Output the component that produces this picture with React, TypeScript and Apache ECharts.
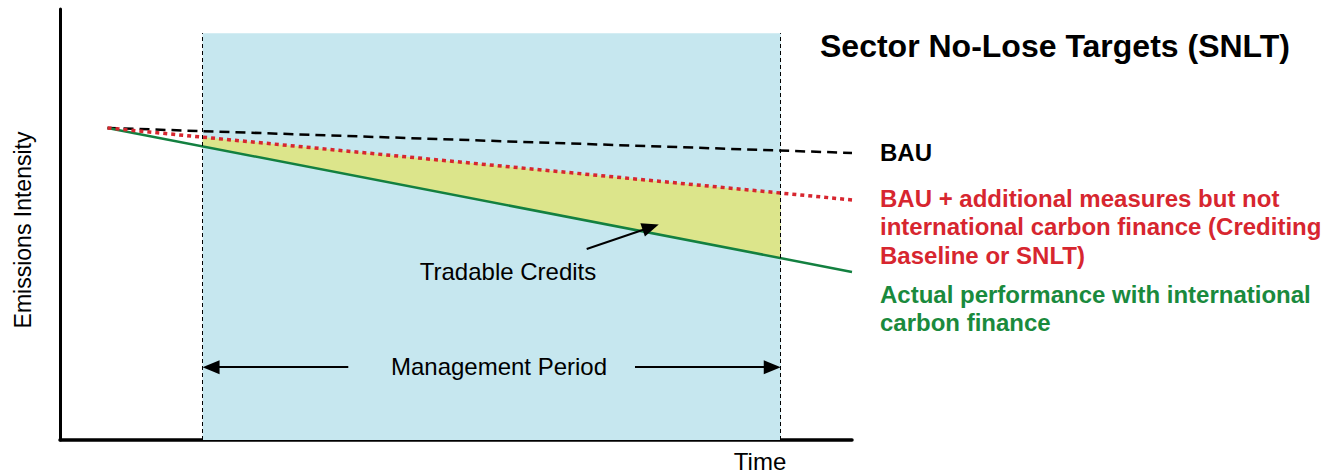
import React, { useEffect, useRef } from "react";
import * as echarts from "echarts";

// Schematic values (axis units 0..100 on both axes)
const timeX = [6, 100];
const bauY = [72.4, 66.6];
const baselineY = [72.4, 55.7];
const actualY = [72.4, 39.0];
const periodX = [18, 91];
const periodTop = 94.4;
const creditsX = [18, 91];
const creditsUpper = [70.3, 57.3];
const creditsLower = [68.1, 42.2];
const periodArrowY = 16.9;
const periodArrowInner = [36.4, 72.6];
const creditArrowFrom = [66.5, 44.3];
const creditArrowTo = [75.6, 50.0];

const FONT = '"Liberation Sans", Arial, Helvetica, sans-serif';

// grid geometry (pixels)
const GRID = { left: 60, right: 470, top: 9, bottom: 34 };
const W = 1322;
const H = 474;
const PX_X = (W - GRID.left - GRID.right) / 100;
const PX_Y = (H - GRID.top - GRID.bottom) / 100;
const HEAD_LEN = 17;

// move an arrow's end point back by half the head length so that the tip lands on `to`
function tipAdjust(from: number[], to: number[]) {
  const dx = (to[0] - from[0]) * PX_X;
  const dy = (to[1] - from[1]) * PX_Y;
  const len = Math.hypot(dx, dy);
  const k = HEAD_LEN / 2 / len;
  return [to[0] - (dx * k) / PX_X, to[1] - (dy * k) / PX_Y];
}

export default function App() {
  const ref = useRef<HTMLDivElement>(null);
  useEffect(() => {
    if (!ref.current) return;
    const chart = echarts.init(ref.current, undefined, { renderer: "svg" });
    const pts = (ys: number[]) => timeX.map((x, i) => [x, ys[i]]);
    const arrows = [
      [[periodArrowInner[0], periodArrowY], [periodX[0], periodArrowY]],
      [[periodArrowInner[1], periodArrowY], [periodX[1], periodArrowY]],
      [creditArrowFrom, creditArrowTo],
    ].map(([f, t]) => [{ coord: f }, { coord: tipAdjust(f, t) }]);
    const option: any = {
      animation: false,
      backgroundColor: "#ffffff",
      grid: { ...GRID, containLabel: false },
      xAxis: {
        type: "value",
        min: 0,
        max: 100,
        axisLine: { show: true, onZero: false, lineStyle: { color: "#000", width: 3.5 } },
        axisTick: { show: false },
        axisLabel: { show: false },
        splitLine: { show: false },
      },
      yAxis: {
        type: "value",
        min: 0,
        max: 100,
        axisLine: { show: true, onZero: false, lineStyle: { color: "#000", width: 3 } },
        axisTick: { show: false },
        axisLabel: { show: false },
        splitLine: { show: false },
      },
      series: [
        {
          type: "line",
          name: "period",
          data: [],
          z: 1,
          markArea: {
            silent: true,
            itemStyle: { color: "#c6e7ef" },
            data: [[{ coord: [periodX[0], 0] }, { coord: [periodX[1], periodTop] }]],
          },
        },
        {
          type: "custom",
          name: "credits",
          z: 2,
          data: [0],
          renderItem: (params: any, api: any) => {
            const p = [
              api.coord([creditsX[0], creditsUpper[0]]),
              api.coord([creditsX[1], creditsUpper[1]]),
              api.coord([creditsX[1], creditsLower[1]]),
              api.coord([creditsX[0], creditsLower[0]]),
            ];
            return { type: "polygon", shape: { points: p }, style: { fill: "#dce58b" } };
          },
        },
        {
          type: "line",
          name: "BAU",
          data: pts(bauY),
          symbol: "none",
          z: 3,
          lineStyle: { color: "#000", width: 2.5, type: [10, 6] },
        },
        {
          type: "line",
          name: "Baseline",
          data: pts(baselineY),
          symbol: "none",
          z: 4,
          lineStyle: { color: "#d7262f", width: 3.5, type: [4, 4], cap: "butt" },
        },
        {
          type: "line",
          name: "Actual",
          data: pts(actualY),
          symbol: "none",
          z: 3,
          lineStyle: { color: "#138040", width: 2.5 },
        },
        {
          type: "line",
          name: "markers",
          data: [],
          z: 6,
          markLine: {
            silent: true,
            animation: false,
            label: { show: false },
            symbol: ["none", "none"],
            lineStyle: { color: "#000", width: 1, type: [4, 3] },
            data: periodX.map((x) => [
              { coord: [x, 0] },
              { coord: [x, periodTop] },
            ]),
          },
        },
        {
          type: "line",
          name: "arrows",
          data: [],
          z: 7,
          markLine: {
            silent: true,
            animation: false,
            label: { show: false },
            symbol: ["none", "triangle"],
            symbolSize: [14, HEAD_LEN],
            lineStyle: { color: "#000", width: 2, type: "solid" },
            itemStyle: { color: "#000" },
            data: arrows,
          },
        },
      ],
      graphic: [
        {
          type: "text",
          z: 100,
          x: 23,
          y: 230,
          rotation: Math.PI / 2,
          style: { text: "Emissions Intensity", font: `23px ${FONT}`, fill: "#000", align: "center", verticalAlign: "middle" },
        },
        {
          type: "text",
          z: 100,
          x: 820,
          y: 46,
          style: { text: "Sector No-Lose Targets (SNLT)", font: `bold 32px ${FONT}`, fill: "#000", verticalAlign: "middle" },
        },
        {
          type: "text",
          z: 100,
          x: 880,
          y: 152,
          style: { text: "BAU", font: `bold 24px ${FONT}`, fill: "#000", verticalAlign: "middle" },
        },
        {
          type: "text",
          z: 100,
          x: 880,
          y: 184,
          style: {
            text: "BAU + additional measures but not\ninternational carbon finance (Crediting\nBaseline or SNLT)",
            font: `bold 24px ${FONT}`,
            lineHeight: 28.5,
            fill: "#d7262f",
            verticalAlign: "top",
          },
        },
        {
          type: "text",
          z: 100,
          x: 880,
          y: 280,
          style: {
            text: "Actual performance with international\ncarbon finance",
            font: `bold 24px ${FONT}`,
            lineHeight: 28,
            fill: "#1a8a3d",
            verticalAlign: "top",
          },
        },
        {
          type: "text",
          z: 100,
          x: 508,
          y: 271,
          style: { text: "Tradable Credits", font: `24px ${FONT}`, fill: "#000", align: "center", verticalAlign: "middle" },
        },
        {
          type: "text",
          z: 100,
          x: 499,
          y: 366,
          style: { text: "Management Period", font: `24px ${FONT}`, fill: "#000", align: "center", verticalAlign: "middle" },
        },
        {
          type: "text",
          z: 100,
          x: 760,
          y: 461,
          style: { text: "Time", font: `24px ${FONT}`, fill: "#000", align: "center", verticalAlign: "middle" },
        },
      ],
    };
    chart.setOption(option);
    return () => chart.dispose();
  }, []);
  return (
    <div
      ref={ref}
      style={{ position: "fixed", left: 0, top: 0, width: W, height: H, background: "#fff" }}
    />
  );
}
